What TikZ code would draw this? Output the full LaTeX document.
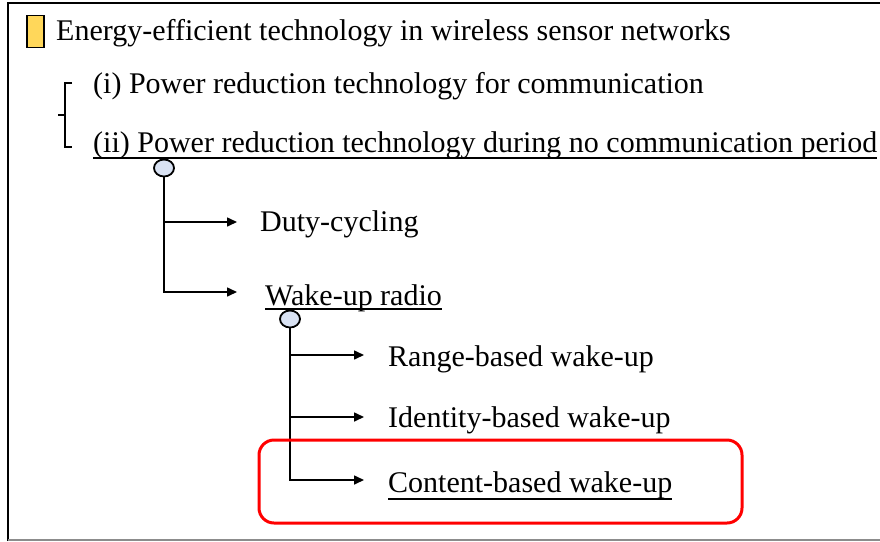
\documentclass[tikz,border=0pt]{standalone}
\usepackage{fontspec}
\setmainfont{Liberation Serif}
\usetikzlibrary{arrows.meta,shapes.geometric}
\definecolor{mark}{HTML}{FFD75A}
\definecolor{dotfill}{HTML}{D9E2F3}
\definecolor{hlred}{HTML}{FF0000}
\begin{document}
\begin{tikzpicture}[x=1pt,y=-1pt,
  txt/.style={anchor=base west,inner sep=0pt,font=\fontsize{30}{34}\selectfont},
  dot/.style={draw,line width=1.8pt,fill=dotfill,ellipse,minimum width=20pt,minimum height=17pt,inner sep=0pt},
  conn/.style={line width=1.6pt},
  uline/.style={line width=1.8pt},
  arr/.style={line width=1.6pt,-{Triangle[length=10pt,width=9pt]}},
  frame/.style={line width=2.2pt}]
\useasboundingbox (0,0) rectangle (880,541);
% frame
\draw[frame] (8,541) -- (8,3) -- (880,3);
\draw[line width=1.5pt,black!45] (8,540) -- (880,540);
% title mark
\node[draw,line width=1.6pt,fill=mark,minimum width=17pt,minimum height=32pt,inner sep=0pt] (mk) at (35.5,31.5) {};
\node[txt] (title) at (56,40) {Energy-efficient technology in wireless sensor networks};
% items
\node[txt] (i1) at (93,93) {(i) Power reduction technology for communication};
\node[txt] (i2) at (93,152) {(ii) Power reduction technology during no communication period};
\draw[uline] ([yshift=-6pt]i2.base west) -- ([yshift=-6pt]i2.base east);
% bracket
\draw[line width=1.6pt] (72,83) -- (65,83) -- (65,147) -- (72,147);
\draw[line width=1.6pt] (65,115) -- (58,115);
% level 2
\node[dot] (c1) at (164,168) {};
\node[txt] (duty) at (260,231) {Duty-cycling};
\node[txt] (wake) at (265,305) {Wake-up radio};
\draw[uline] ([yshift=-4pt]wake.base west) -- ([yshift=-4pt]wake.base east);
\coordinate (a1) at (237,222);
\coordinate (a2) at (237,292);
\draw[conn] (c1.south) -- (164,292);
\draw[arr] (164,222) -- (a1);
\draw[arr] (c1.south) |- (a2);
% level 3
\node[dot] (c2) at (290,319) {};
\node[txt] (range) at (388,366) {Range-based wake-up};
\node[txt] (ident) at (388,427) {Identity-based wake-up};
\node[txt] (cont) at (388,492) {Content-based wake-up};
\draw[uline] ([yshift=-7pt]cont.base west) -- ([yshift=-7pt]cont.base east);
\coordinate (b1) at (364,355);
\coordinate (b2) at (364,417);
\coordinate (b3) at (364,480);
\draw[arr] (290,355) -- (b1);
\draw[arr] (290,417) -- (b2);
\draw[arr] (c2.south) |- (b3);
% highlight
\node[draw=hlred,line width=3pt,rounded corners=15pt,minimum width=483pt,minimum height=83pt,inner sep=0pt] (hl) at (500.5,481.5) {};
\end{tikzpicture}
\end{document}
